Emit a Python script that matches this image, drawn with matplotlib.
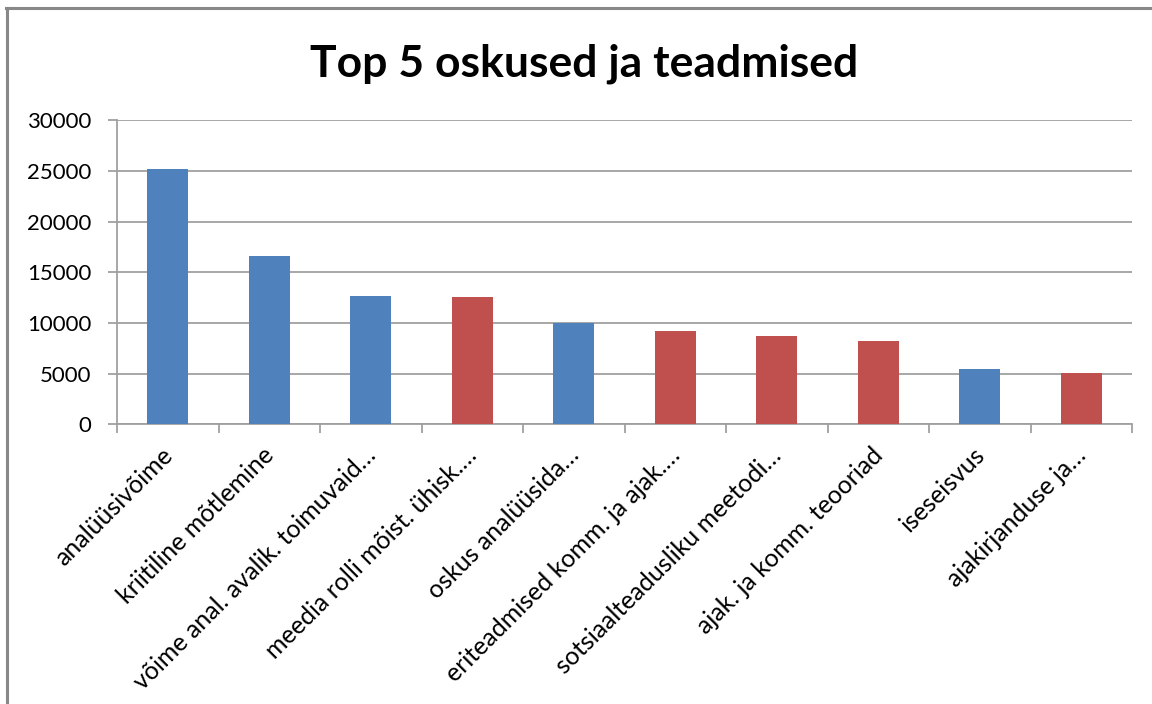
import matplotlib
matplotlib.use("Agg")
import matplotlib.pyplot as plt
from matplotlib.lines import Line2D
from matplotlib.transforms import ScaledTranslation
import numpy as np

plt.rcParams['font.family'] = ['Lato', 'DejaVu Sans']

categories = ["analüüsivõime", "kriitiline mõtlemine", "võime anal. avalik. toimuvaid…",
              "meedia rolli mõist. ühisk.…", "oskus analüüsida…", "eriteadmised komm. ja ajak.…",
              "sotsiaalteadusliku meetodi…", "ajak. ja komm. teooriad", "iseseisvus",
              "ajakirjanduse ja…"]
values = [25200, 16600, 12650, 12550, 9950, 9250, 8750, 8250, 5450, 5100]
groups = ["A", "A", "A", "B", "A", "B", "B", "B", "A", "B"]
yticks = [0, 5000, 10000, 15000, 20000, 25000, 30000]
title = "Top 5 oskused ja teadmised"

colors = {"A": "#4F81BD", "B": "#C0504D"}

fig = plt.figure(figsize=(11.52, 7.04), dpi=100)
ax = fig.add_axes([117/1152, 1-424.3/704, (1132-117)/1152, (424.3-120.3)/704])

x = np.arange(len(categories))
ax.bar(x, values, width=0.4, color=[colors[g] for g in groups], zorder=3)

ax.set_xlim(-0.5, len(categories)-0.5)
ax.set_ylim(0, 30000)
ax.set_yticks(yticks)
ax.set_yticklabels([str(v) for v in yticks])
ax.yaxis.grid(True, color="#a0a0a0", linewidth=1.3, zorder=0)

for s in ["top", "right"]:
    ax.spines[s].set_visible(False)
for s in ["left", "bottom"]:
    ax.spines[s].set_color("#a0a0a0")
    ax.spines[s].set_linewidth(1.3)

ax.tick_params(axis="y", length=6.5, width=1.3, color="#a0a0a0", pad=12, labelsize=16, labelcolor="black")
ax.set_xticks(np.arange(-0.5, len(categories), 1.0))
ax.set_xticklabels([])
ax.tick_params(axis="x", which="major", length=6.5, width=1.3, color="#a0a0a0")
ax.set_xticks(x, minor=True)
ax.set_xticklabels(categories, minor=True, rotation=45, ha="right", va="top",
                   rotation_mode="anchor", fontsize=18)
ax.tick_params(axis="x", which="minor", length=0, pad=0)
off = ScaledTranslation(-0.07, -0.19, fig.dpi_scale_trans)
for lab in ax.get_xticklabels(minor=True):
    lab.set_transform(lab.get_transform() + off)

fig.text(584/1152, 1-77/704, title, ha="center", va="baseline", fontsize=32, fontweight="bold")

fig.add_artist(Line2D([7/1152, 7/1152], [0, 1-8/704], transform=fig.transFigure, color="#888888", linewidth=2.2))
fig.add_artist(Line2D([6/1152, 1], [1-8/704, 1-8/704], transform=fig.transFigure, color="#888888", linewidth=2.2))

fig.savefig("out.png", dpi=100)
